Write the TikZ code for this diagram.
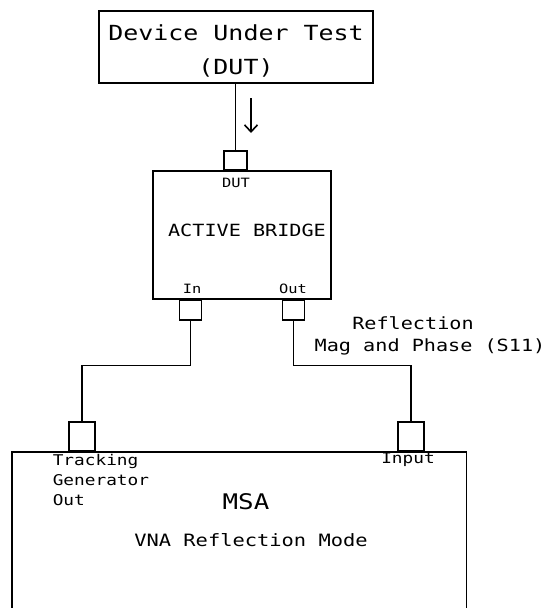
\documentclass[tikz,border=0pt]{standalone}
\usepackage{fontspec}
\newfontfamily\cadfont[FakeStretch=1.2]{DejaVu Sans Mono}
\usetikzlibrary{arrows.meta}

\tikzset{
  box/.style={draw, inner sep=0pt},
  port/.style={draw, inner sep=0pt, minimum width=22pt, minimum height=20pt},
  bigport/.style={draw, inner sep=0pt, minimum width=26pt, minimum height=29pt},
  smalltxt/.style={inner sep=0pt, font=\cadfont\fontsize{12.8}{14}\selectfont},
  labtxt/.style={inner sep=0pt, font=\cadfont\fontsize{14.8}{20}\selectfont},
  midtxt/.style={inner sep=0pt, font=\cadfont\fontsize{16.8}{20}\selectfont},
}

\begin{document}
\begin{tikzpicture}[x=1pt, y=-1pt, line width=1.6pt]
    \useasboundingbox (0,0) rectangle (545,608);
    \clip (0,0) rectangle (545,608);
    % boxes
    \node[box, minimum width=274pt, minimum height=72pt] (dut) at (236,47) {};
    \node[box, minimum width=178pt, minimum height=128pt] (bridge) at (242,235) {};
    \node[box, minimum width=454.5pt, minimum height=220pt] (msa) at (239.25,562) {};
    % ports
    \node[port, minimum width=23pt, minimum height=19pt, anchor=south] (pdut) at (235.5,171) {};
    \node[port, anchor=north] (pin) at (190.5,299) {};
    \node[port, anchor=north] (pout) at (293.5,299) {};
    \node[bigport, anchor=south] (ptg) at (82,452) {};
    \node[bigport, anchor=south] (pinput) at (411,452) {};
    % cables
    \draw (dut.south -| pdut.north) -- (pdut.north);
    \draw[-{Straight Barb[length=7pt, width=13pt]}] (251,98) -- (251,133);
    \draw (pin.south) -- ++(0,45) -| (ptg.north);
    \draw (pout.south) -- ++(0,45) -| (pinput.north);
    % labels
    \node[inner sep=0pt, align=center, font=\cadfont\fontsize{20.8}{34}\selectfont] (ldut) at (236,51) {Device Under Test\\(DUT)};
    \node[smalltxt] (lport) at (236,183) {DUT};
    \node[midtxt] (lbridge) at (247,230) {ACTIVE BRIDGE};
    \node[smalltxt] (lin) at (192,289) {In};
    \node[smalltxt] (lout) at (293,289) {Out};
    \node[midtxt] (lrefl) at (413,323) {Reflection};
    \node[midtxt] (lmag) at (430,347) {Mag and Phase (S11)};
    \node[labtxt, align=left, anchor=north west] (ltg) at (52,453) {Tracking\\Generator\\Out};
    \node[labtxt] (linput) at (408,460) {Input};
    \node[inner sep=0pt, font=\cadfont\fontsize{21.5}{24}\selectfont] (lmsa) at (246,502) {MSA};
    \node[inner sep=0pt, font=\cadfont\fontsize{17}{20}\selectfont] (lvna) at (251,540) {VNA Reflection Mode};
\end{tikzpicture}
\end{document}
